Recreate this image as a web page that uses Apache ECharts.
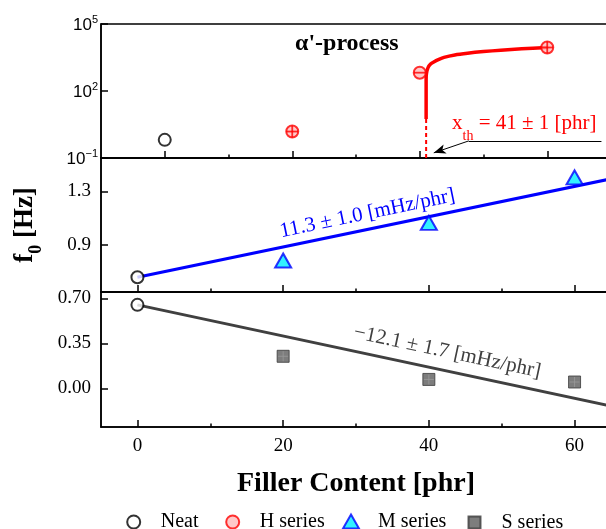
<!DOCTYPE html>
<html>
<head>
<meta charset="utf-8">
<script src="https://cdn.jsdelivr.net/npm/echarts@6/dist/echarts.min.js"></script>
<style>
html, body { margin: 0; padding: 0; background: #fff; }
#chart { width: 606px; height: 529px; }
</style>
</head>
<body>
<div id="chart"></div>
<script>
// Filler content (phr) of each sample set
const neatX = [0];
const hX = [20, 40, 60];
const mX = [20, 40, 60];
const sX = [20, 40, 60];

// α'-process relaxation frequency (Hz, log scale)
const neatAlpha = [0.65];
const hAlpha = [1.53, 661, 8870];

// characteristic frequency f0 (Hz)
const neatF0M = [0.66];
const mF0 = [0.785, 1.066, 1.405];
const neatF0S = [0.65];
const sF0 = [0.25, 0.07, 0.05];

// percolation-type threshold fit for the H series
const xTh = 41;
const xThErr = 1;
const thCurveX = [41, 41, 41.05, 41.3, 41.7, 42.2, 43.0, 43.8, 45.5, 47.5, 50, 52.7, 56, 60];
const thCurveY = [5.6, 330, 600, 1110, 1600, 2000, 2600, 3200, 4100, 4900, 5800, 6700, 7700, 8870];

// linear fits: intercept (Hz), slope and its error (Hz/phr)
const mFitB = 0.66, mFitK = 0.0113, mFitErr = 0.0010;
const sFitB = 0.65, sFitK = -0.0121, sFitErr = 0.0017;

// tick values
const xTicks = [0, 20, 40, 60];
const xMinorTicks = [10, 30, 50];
const logTicks = [0.1, 100, 100000];
const midTicks = [0.9, 1.3];
const lowTicks = [0, 0.35, 0.70];

const serif = 'Liberation Serif';
const sans = 'Liberation Sans';
const ink = '#000';
const lineW = 1.5;

const zip = (xs, ys) => xs.map((x, i) => [x, ys[i]]);
const fitLine = (b, k, x0, x1) => [[x0, b + k * x0], [x1, b + k * x1]];
const mHz = v => (v * 1000).toFixed(1).replace('-', '\u2212');

function xAxisPair(gridIndex, min, max, labels) {
  return [{
    type: 'value', gridIndex, min, max, position: 'bottom',
    axisLine: { show: true, onZero: false, lineStyle: { color: ink, width: lineW } },
    axisTick: { show: true, inside: true, length: 7, customValues: xTicks, lineStyle: { color: ink, width: lineW } },
    axisLabel: { show: labels, customValues: xTicks, margin: 10, fontFamily: serif, fontSize: 19, color: ink },
    splitLine: { show: false }
  }, {
    type: 'value', gridIndex, min, max, position: 'bottom',
    axisLine: { show: false, onZero: false },
    axisTick: { show: true, inside: true, length: 3.5, customValues: xMinorTicks, lineStyle: { color: ink, width: lineW } },
    axisLabel: { show: false },
    splitLine: { show: false }
  }];
}

function yAxisLinear(gridIndex, min, max, ticks, digits) {
  return {
    type: 'value', gridIndex, min, max,
    axisLine: { show: true, onZero: false, lineStyle: { color: ink, width: lineW } },
    axisTick: { show: true, inside: true, length: 7, customValues: ticks, lineStyle: { color: ink, width: lineW } },
    axisLabel: { customValues: ticks, margin: 10, fontFamily: serif, fontSize: 19, color: ink,
                 showMinLabel: true, showMaxLabel: true,
                 formatter: v => v.toFixed(digits) },
    splitLine: { show: false }
  };
}

const gridBase = { left: 101, width: 510, show: true, borderColor: ink, borderWidth: lineW,
                   backgroundColor: 'transparent', outerBoundsMode: 'none', containLabel: false };

const neatStyle = { color: '#fff', borderColor: ink, borderWidth: 2 };
const hStyle = { color: '#ffbcbc', borderColor: '#ff0000', borderWidth: 2 };
const mStyle = { color: '#00eeff', borderColor: '#0000ff', borderWidth: 2 };
const sStyle = { color: '#5c5c5c', borderColor: '#3a3a3a', borderWidth: 1 };

// one legend block per entry: [name, icon centre x, icon width, icon height, icon]
const legendItems = [
  ['Neat', 132.7, 13, 13, 'circle'],
  ['H series', 231.7, 13, 13, 'circle'],
  ['M series', 350, 16, 14, 'triangle'],
  ['S series', 473.5, 12, 12, 'rect']
];

const option = {
  backgroundColor: '#fff',
  animation: false,
  grid: [
    Object.assign({ top: 24, height: 134 }, gridBase),
    Object.assign({ top: 158, height: 134 }, gridBase),
    Object.assign({ top: 292, height: 135 }, gridBase)
  ],
  xAxis: [].concat(
    xAxisPair(0, -10, 70, false),
    xAxisPair(1, -5, 65, false),
    xAxisPair(2, -5, 65, true)
  ),
  yAxis: [
    {
      type: 'log', gridIndex: 0, min: 0.1, max: 100000, logBase: 10,
      axisLine: { show: true, onZero: false, lineStyle: { color: ink, width: lineW } },
      axisTick: { show: true, inside: true, length: 7, customValues: logTicks, lineStyle: { color: ink, width: lineW } },
      minorTick: { show: false },
      axisLabel: {
        customValues: logTicks, margin: 3, showMinLabel: true, showMaxLabel: true,
        formatter: v => {
          const e = Math.round(Math.log10(v));
          return '{b|10}{s|' + (e < 0 ? '\u2212' + (-e) : e) + '}';
        },
        rich: {
          b: { fontFamily: sans, fontSize: 17, color: ink, lineHeight: 20, verticalAlign: 'bottom' },
          s: { fontFamily: sans, fontSize: 11, color: ink, lineHeight: 12, verticalAlign: 'top' }
        }
      },
      splitLine: { show: false }
    },
    Object.assign(yAxisLinear(1, 0.55, 1.55, midTicks, 1), {
      name: '{t|f}{s|0}{t| [Hz]}',
      nameLocation: 'middle', nameGap: 56, nameRotate: 90, nameMoveOverlap: false,
      nameTextStyle: {
        rich: {
          t: { fontFamily: serif, fontWeight: 'bold', fontSize: 27, color: ink, verticalAlign: 'top' },
          s: { fontFamily: serif, fontWeight: 'bold', fontSize: 18, color: ink, lineHeight: 33, verticalAlign: 'bottom' }
        }
      }
    }),
    yAxisLinear(2, -0.3, 0.75, lowTicks, 2)
  ],
  title: [
    {
      text: "\u03b1'-process", left: 295, top: 32, padding: 0,
      textStyle: { fontFamily: serif, fontWeight: 'bold', fontSize: 24, color: ink }
    },
    {
      text: '{x|x}{th|th}{r| = ' + xTh + ' \u00b1 ' + xThErr + ' [phr]}',
      left: 452, top: 113, padding: 0,
      textStyle: {
        fontWeight: 'normal',
        rich: {
          x: { fontFamily: serif, fontWeight: 'normal', fontSize: 21, color: '#ff0000', verticalAlign: 'top' },
          th: { fontFamily: serif, fontWeight: 'normal', fontSize: 14, color: '#ff0000', lineHeight: 30, verticalAlign: 'bottom' },
          r: { fontFamily: serif, fontWeight: 'normal', fontSize: 21, color: '#ff0000', verticalAlign: 'top' }
        }
      }
    }
  ],
  legend: legendItems.map(([name, cx, w, h, icon]) => ({
    data: [{ name, icon }],
    left: cx - w / 2, top: 518.5 - h / 2, padding: 0, itemWidth: w, itemHeight: h,
    selectedMode: false,
    formatter: n => '{sp| }{t|' + n + '}',
    textStyle: {
      rich: {
        sp: { width: 22 - w / 2, fontSize: 20 },
        t: { fontFamily: serif, fontSize: 20, color: ink }
      }
    }
  })),
  series: [
    // α'-process panel
    {
      name: 'threshold', type: 'line', xAxisIndex: 0, yAxisIndex: 0,
      data: [[xTh, 0.1], [xTh, thCurveY[0]]],
      symbol: 'none', lineStyle: { color: '#ff0000', width: 2, type: [4, 3] }, z: 2,
      markLine: {
        silent: true, animation: false,
        lineStyle: { color: ink, width: 1, type: 'solid' },
        label: { show: false },
        data: [
          [{ coord: [68.5, 0.585], symbol: 'none' }, { coord: [47.7, 0.585], symbol: 'none' }],
          [{ coord: [47.7, 0.585], symbol: 'none' }, { coord: [xTh + 1.2, 0.17], symbol: 'arrow', symbolSize: [7, 12] }]
        ]
      }
    },
    {
      name: 'threshold fit', type: 'line', xAxisIndex: 0, yAxisIndex: 0,
      data: zip(thCurveX, thCurveY), smooth: 0.3,
      symbol: 'none', lineStyle: { color: '#ff0000', width: 3.5 }, z: 3
    },
    {
      name: 'Neat', type: 'scatter', xAxisIndex: 0, yAxisIndex: 0,
      data: zip(neatX, neatAlpha), symbol: 'circle', symbolSize: 12, itemStyle: neatStyle, z: 5
    },
    {
      name: 'H series', type: 'scatter', xAxisIndex: 0, yAxisIndex: 0,
      data: zip(hX, hAlpha), symbol: 'circle', symbolSize: 12, itemStyle: hStyle, z: 5
    },
    {
      name: 'H bars', type: 'scatter', xAxisIndex: 0, yAxisIndex: 0, silent: true,
      data: zip(hX, hAlpha), symbol: 'rect', symbolSize: [12, 1.8],
      itemStyle: { color: '#ff0000' }, z: 6
    },
    {
      name: 'H bars v', type: 'scatter', xAxisIndex: 0, yAxisIndex: 0, silent: true,
      data: zip(hX, hAlpha).filter((p, i) => i !== 1), symbol: 'rect', symbolSize: [1.8, 12],
      itemStyle: { color: '#ff0000' }, z: 6
    },
    // f0 panel, M series
    {
      name: 'M fit', type: 'line', xAxisIndex: 2, yAxisIndex: 1,
      data: fitLine(mFitB, mFitK, 0, 65),
      symbol: 'none', lineStyle: { color: '#0000ff', width: 3 }, z: 3,
      markLine: {
        silent: true, animation: false, symbol: 'none',
        lineStyle: { color: 'rgba(0,0,0,0)', width: 0 },
        label: {
          show: true, position: 'middle', distance: 5,
          formatter: mHz(mFitK) + ' \u00b1 ' + mHz(mFitErr) + ' [mHz/phr]',
          fontFamily: serif, fontSize: 21, color: '#0000ff'
        },
        data: [[{ coord: fitLine(mFitB, mFitK, -1, 65)[0] }, { coord: fitLine(mFitB, mFitK, -1, 65)[1] }]]
      }
    },
    {
      name: 'Neat', type: 'scatter', xAxisIndex: 2, yAxisIndex: 1,
      data: zip(neatX, neatF0M), symbol: 'circle', symbolSize: 12, itemStyle: neatStyle, z: 5
    },
    {
      name: 'M series', type: 'scatter', xAxisIndex: 2, yAxisIndex: 1,
      data: zip(mX, mF0), symbol: 'triangle', symbolSize: [16, 14], itemStyle: mStyle, z: 5
    },
    // f0 panel, S series
    {
      name: 'S fit', type: 'line', xAxisIndex: 4, yAxisIndex: 2,
      data: fitLine(sFitB, sFitK, 0, 65),
      symbol: 'none', lineStyle: { color: '#404040', width: 3 }, z: 3,
      markLine: {
        silent: true, animation: false, symbol: 'none',
        lineStyle: { color: 'rgba(0,0,0,0)', width: 0 },
        label: {
          show: true, position: 'middle', distance: 8,
          formatter: mHz(sFitK) + ' \u00b1 ' + mHz(sFitErr) + ' [mHz/phr]',
          fontFamily: serif, fontSize: 21, color: '#404040'
        },
        data: [[{ coord: fitLine(sFitB, sFitK, 19, 65)[0] }, { coord: fitLine(sFitB, sFitK, 19, 65)[1] }]]
      }
    },
    {
      name: 'Neat', type: 'scatter', xAxisIndex: 4, yAxisIndex: 2,
      data: zip(neatX, neatF0S), symbol: 'circle', symbolSize: 12, itemStyle: neatStyle, z: 5
    },
    {
      name: 'S series', type: 'scatter', xAxisIndex: 4, yAxisIndex: 2,
      data: zip(sX, sF0), symbol: 'rect', symbolSize: 12, itemStyle: sStyle, z: 5
    },
    {
      name: 'S grid h', type: 'scatter', xAxisIndex: 4, yAxisIndex: 2, silent: true,
      data: zip(sX, sF0), symbol: 'rect', symbolSize: [10, 1], itemStyle: { color: '#9a9a9a' }, z: 6
    },
    {
      name: 'S grid v', type: 'scatter', xAxisIndex: 4, yAxisIndex: 2, silent: true,
      data: zip(sX, sF0), symbol: 'rect', symbolSize: [1, 10], itemStyle: { color: '#9a9a9a' }, z: 6
    }
  ]
};

// axis title under the bottom panel
Object.assign(option.xAxis[4], {
  name: 'Filler Content [phr]', nameLocation: 'middle', nameGap: 43,
  nameTextStyle: { fontFamily: serif, fontWeight: 'bold', fontSize: 28, color: ink }
});

const chart = echarts.init(document.getElementById('chart'));
chart.setOption(option);
</script>
</body>
</html>
